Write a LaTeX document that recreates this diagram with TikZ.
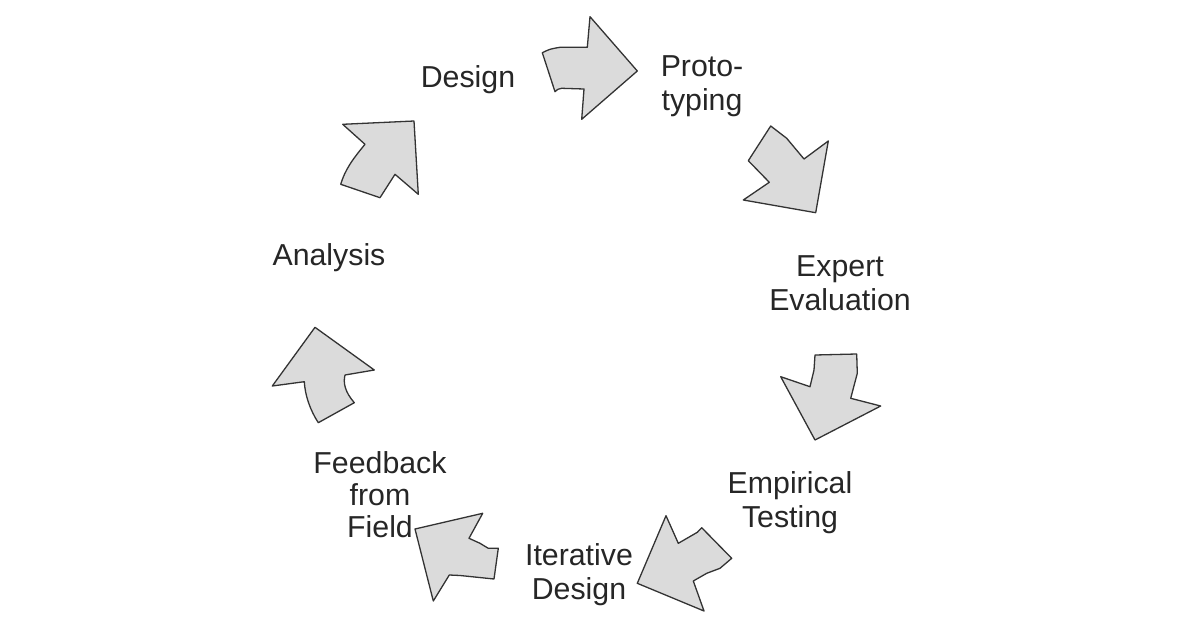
\documentclass[tikz,border=0pt]{standalone}
\usepackage{fontspec}
\setmainfont{Liberation Sans}
\begin{document}
\begin{tikzpicture}[x=1pt,y=-1pt,
  arr/.style={fill=black!14,draw=black!80,line width=1.3pt,line join=round},
  lbl/.style={font=\fontsize{30.3}{34}\selectfont,align=center,text=black!85,inner sep=0pt}]
\useasboundingbox (0,0) rectangle (1178,626);
% labels
\node[lbl] (design) at (468,80) {Design};
\node[lbl] (proto) at (702,86) {Proto-\\typing};
\node[lbl] (expert) at (840,283) {Expert\\Evaluation};
\node[lbl] (empir) at (790,503) {Empirical\\Testing};
\node[lbl] (iter) at (579,575) {Iterative\\Design};
\node[lbl] (feed) at (380,495) {Feedback\\[-2pt]from\\[-2pt]Field};
\node[lbl] (anal) at (329,258) {Analysis};
% arrows
\draw[arr] (542.3,52.7) .. controls (550,49) .. (560,47.3) -- (587.3,47.3) -- (590,16.7) -- (637.3,71) -- (581.7,119.3) -- (584,89) -- (561.7,88.3) .. controls (558,89) .. (555,91.7) -- cycle;
\draw[arr] (770.7,126) -- (786.7,138.3) -- (804,159) -- (828.3,141) -- (815.7,212.7) -- (743.3,200) -- (769.3,182.3) -- (748.3,160.7) -- cycle;
\draw[arr] (815,355) -- (856.7,354) -- (857.3,373.3) -- (850.7,398.3) -- (880.7,406) -- (815,440) -- (780.7,376.7) -- (810,386.7) -- (814,370) -- cycle;
\draw[arr] (666,515.7) -- (678.3,543.3) -- (697.3,532.3) -- (701.7,527.7) -- (731.7,558.3) -- (720,568.3) -- (706.7,573.3) -- (693.3,581) -- (704,611) -- (637.3,583.3) -- cycle;
\draw[arr] (415,529) -- (482.7,513.3) -- (469,538.3) -- (480,543.3) -- (488.3,548.3) -- (498.3,548.3) -- (494,579) -- (471.7,576.7) -- (460,575.5) -- (449.3,575) -- (433.3,601) -- cycle;
\draw[arr] (315,327.3) -- (374.3,370) -- (345,375) .. controls (343,383) and (345,392) .. (354.3,402.7) -- (318.3,422.7) .. controls (310,410) and (305,395) .. (304.3,381.7) -- (272.3,386) -- cycle;
\draw[arr] (342.7,124.3) -- (414,121) -- (418.3,194.3) -- (395,174.3) -- (380,197.7) -- (340.7,184.3) .. controls (345,170) and (352,160) .. (365,144.3) -- cycle;
\end{tikzpicture}
\end{document}
